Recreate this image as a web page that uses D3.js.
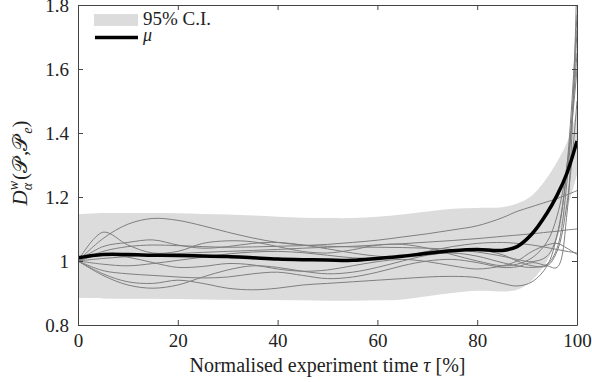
<!DOCTYPE html>
<html>
<head>
<meta charset="utf-8">
<script src="https://cdn.jsdelivr.net/npm/d3@7"></script>
<style>
  body { margin: 0; background: #fff; }
</style>
</head>
<body>
<svg id="chart" width="592" height="382"></svg>
<script>
// time axis (normalised experiment time, %)
const tau = [0, 5, 10, 15, 20, 25, 30, 35, 40, 45, 50, 55, 60, 65, 70, 75, 80, 85, 88, 91, 94, 96, 98, 100];

// mean curve and 95% band
const mu      = [1.010, 1.020, 1.020, 1.018, 1.017, 1.016, 1.014, 1.010, 1.006, 1.004, 1.003, 1.002, 1.008, 1.015, 1.024, 1.032, 1.036, 1.033, 1.045, 1.085, 1.150, 1.205, 1.275, 1.375];
const ciUpper = [1.146, 1.150, 1.150, 1.150, 1.149, 1.147, 1.145, 1.142, 1.138, 1.135, 1.134, 1.134, 1.138, 1.145, 1.155, 1.163, 1.166, 1.168, 1.180, 1.205, 1.260, 1.310, 1.370, 1.470];
const ciLower = [0.884, 0.883, 0.882, 0.882, 0.881, 0.880, 0.879, 0.878, 0.878, 0.877, 0.876, 0.876, 0.877, 0.880, 0.890, 0.900, 0.907, 0.905, 0.910, 0.940, 1.000, 1.070, 1.160, 1.270];

// individual runs
const run1  = [1.000, 1.070, 1.115, 1.133, 1.127, 1.110, 1.090, 1.072, 1.058, 1.050, 1.046, 1.044, 1.043, 1.042, 1.040, 1.036, 1.028, 1.015, 1.005, 0.998, 1.015, 1.080, 1.300, 1.770];
const run2  = [1.000, 1.090, 1.050, 1.025, 1.030, 1.055, 1.063, 1.060, 1.045, 1.030, 1.025, 1.035, 1.050, 1.052, 1.040, 1.020, 1.000, 0.985, 0.990, 1.010, 1.060, 1.140, 1.300, 1.600];
const run3  = [1.000, 1.045, 1.058, 1.066, 1.050, 1.040, 1.045, 1.055, 1.058, 1.050, 1.038, 1.025, 1.015, 1.012, 1.020, 1.032, 1.035, 1.020, 1.000, 0.985, 0.985, 1.030, 1.180, 1.500];
const run4  = [1.000, 1.008, 1.014, 1.019, 1.023, 1.027, 1.030, 1.033, 1.036, 1.040, 1.043, 1.046, 1.050, 1.054, 1.059, 1.064, 1.070, 1.077, 1.081, 1.085, 1.090, 1.093, 1.097, 1.100];
const run5  = [1.000, 1.030, 1.045, 1.050, 1.048, 1.045, 1.043, 1.044, 1.046, 1.048, 1.052, 1.058, 1.065, 1.075, 1.085, 1.097, 1.110, 1.135, 1.155, 1.170, 1.185, 1.195, 1.207, 1.220];
const run6  = [1.000, 0.990, 0.985, 0.992, 1.002, 1.012, 1.022, 1.028, 1.030, 1.026, 1.018, 1.010, 1.008, 1.015, 1.030, 1.045, 1.055, 1.058, 1.055, 1.050, 1.042, 1.036, 1.030, 1.025];
const run7  = [1.000, 0.955, 0.925, 0.915, 0.925, 0.950, 0.972, 0.985, 0.980, 0.968, 0.960, 0.965, 0.980, 1.000, 1.018, 1.025, 1.015, 0.995, 0.985, 0.980, 0.990, 1.040, 1.250, 1.720];
const run8  = [1.000, 0.960, 0.935, 0.930, 0.940, 0.930, 0.915, 0.910, 0.915, 0.925, 0.930, 0.935, 0.940, 0.945, 0.950, 0.952, 0.948, 0.930, 0.922, 0.935, 0.985, 1.080, 1.280, 1.650];
const run9  = [1.000, 0.970, 0.960, 0.955, 0.950, 0.947, 0.950, 0.960, 0.965, 0.955, 0.945, 0.950, 0.965, 0.985, 1.000, 1.005, 0.995, 0.980, 0.982, 0.995, 0.985, 0.980, 1.150, 1.900];
const run10 = [1.000, 1.020, 1.012, 0.995, 0.980, 0.983, 0.992, 0.988, 0.975, 0.968, 0.972, 0.985, 0.998, 1.005, 0.998, 0.985, 0.975, 0.985, 1.000, 1.030, 1.050, 1.055, 1.040, 1.020];
const runs = [run1, run2, run3, run4, run5, run6, run7, run8, run9, run10];

const xTicks = [0, 20, 40, 60, 80, 100];
const yTicks = [0.8, 1, 1.2, 1.4, 1.6, 1.8];

const FONT = "'Liberation Serif', 'DejaVu Serif', serif";

const svg = d3.select("#chart");
const margin = { left: 78, top: 5, right: 15, bottom: 57 };
const W = 592, H = 382;

const x = d3.scaleLinear().domain([0, 100]).range([margin.left, W - margin.right]);
const y = d3.scaleLinear().domain([0.8, 1.8]).range([H - margin.bottom, margin.top]);

svg.append("clipPath").attr("id", "plotClip")
  .append("rect")
  .attr("x", x(0)).attr("y", y(1.8))
  .attr("width", x(100) - x(0)).attr("height", y(0.8) - y(1.8));

const plot = svg.append("g").attr("clip-path", "url(#plotClip)");
const curve = d3.curveCatmullRom.alpha(0.5);

// band
const area = d3.area()
  .x((d, i) => x(tau[i]))
  .y0((d, i) => y(ciLower[i]))
  .y1((d, i) => y(ciUpper[i]))
  .curve(curve);
plot.append("path").datum(tau).attr("d", area).attr("fill", "#dcdcdc");

// runs
const line = d3.line()
  .x((d, i) => x(tau[i]))
  .y(d => y(d))
  .curve(curve);

plot.selectAll(".run").data(runs).enter().append("path")
  .attr("class", "run")
  .attr("d", line)
  .attr("fill", "none")
  .attr("stroke", "#7f7f7f")
  .attr("stroke-width", 1);

// mean
plot.append("path").datum(mu).attr("d", line)
  .attr("fill", "none").attr("stroke", "#000").attr("stroke-width", 3.5);

// frame + inward ticks on all 4 sides
const axisColor = "#444";
function styleAxis(g) {
  g.select(".domain").attr("stroke", axisColor);
  g.selectAll("line").attr("stroke", axisColor);
  g.selectAll("text").attr("font-size", 19).style("font-family", FONT).attr("fill", "#222");
}

svg.append("g").attr("transform", `translate(0,${y(0.8)})`)
  .call(d3.axisBottom(x).tickValues(xTicks).tickSizeInner(-5).tickSizeOuter(0).tickPadding(9).tickFormat(d3.format("d")))
  .call(styleAxis);

svg.append("g").attr("transform", `translate(${x(0)},0)`)
  .call(d3.axisLeft(y).tickValues(yTicks).tickSizeInner(-5).tickSizeOuter(0).tickPadding(9).tickFormat(d => d === 1 ? "1" : d3.format(".1f")(d)))
  .call(styleAxis);

svg.append("g").attr("transform", `translate(0,${y(1.8)})`)
  .call(d3.axisTop(x).tickValues(xTicks).tickSizeInner(-5).tickSizeOuter(0).tickFormat(""))
  .call(styleAxis);

svg.append("g").attr("transform", `translate(${x(100)},0)`)
  .call(d3.axisRight(y).tickValues(yTicks).tickSizeInner(-5).tickSizeOuter(0).tickFormat(""))
  .call(styleAxis);

// legend
const leg = svg.append("g").style("font-family", FONT);
leg.append("rect").attr("x", 94).attr("y", 14).attr("width", 44).attr("height", 12).attr("fill", "#dcdcdc");
leg.append("text").attr("x", 143).attr("y", 25).attr("font-size", 19).attr("fill", "#222").text("95% C.I.");
leg.append("line").attr("x1", 95).attr("x2", 138).attr("y1", 37.5).attr("y2", 37.5)
  .attr("stroke", "#000").attr("stroke-width", 3.5);
leg.append("text").attr("x", 143).attr("y", 41).attr("font-size", 18).attr("font-style", "italic").attr("fill", "#222").text("μ");

// x label
const xl = svg.append("text").attr("x", (x(0) + x(100)) / 2).attr("y", 372)
  .attr("text-anchor", "middle").attr("font-size", 20).attr("fill", "#222").style("font-family", FONT);
xl.append("tspan").text("Normalised experiment time ");
xl.append("tspan").attr("font-style", "italic").text("τ");
xl.append("tspan").text(" [%]");

// y label, laid out piece by piece (rotated)
const yl = svg.append("g").attr("transform", "translate(27,163) rotate(-90)").style("font-family", FONT);
const pieces = [
  { t: "D", size: 21, italic: true },
  { t: "w", size: 14, italic: true, dy: -9 },
  { t: "α", size: 14, italic: true, dy: 5, stack: true },
  { t: "(", size: 21 },
  { t: "𝒫", size: 21 },
  { t: ", ", size: 21 },
  { t: "𝒫", size: 21 },
  { t: "e", size: 14, italic: true, dy: 5 },
  { t: ")", size: 21 }
];
let cx = 0, prevStart = 0, maxW = 0;
const nodes = [];
pieces.forEach(p => {
  const px = p.stack ? prevStart : cx;
  const t = yl.append("text").attr("x", px).attr("y", p.dy || 0).attr("fill", "#222")
    .attr("font-size", p.size).attr("font-style", p.italic ? "italic" : null).text(p.t);
  const w = t.node().getComputedTextLength();
  if (p.stack) {
    cx = prevStart + Math.max(w, maxW) + 1;
  } else {
    prevStart = px;
    maxW = w;
    cx = px + w + (p.t === "𝒫" ? 2 : 0);
  }
  nodes.push(t);
});
nodes.forEach(t => t.attr("x", +t.attr("x") - cx / 2));
</script>
</body>
</html>
